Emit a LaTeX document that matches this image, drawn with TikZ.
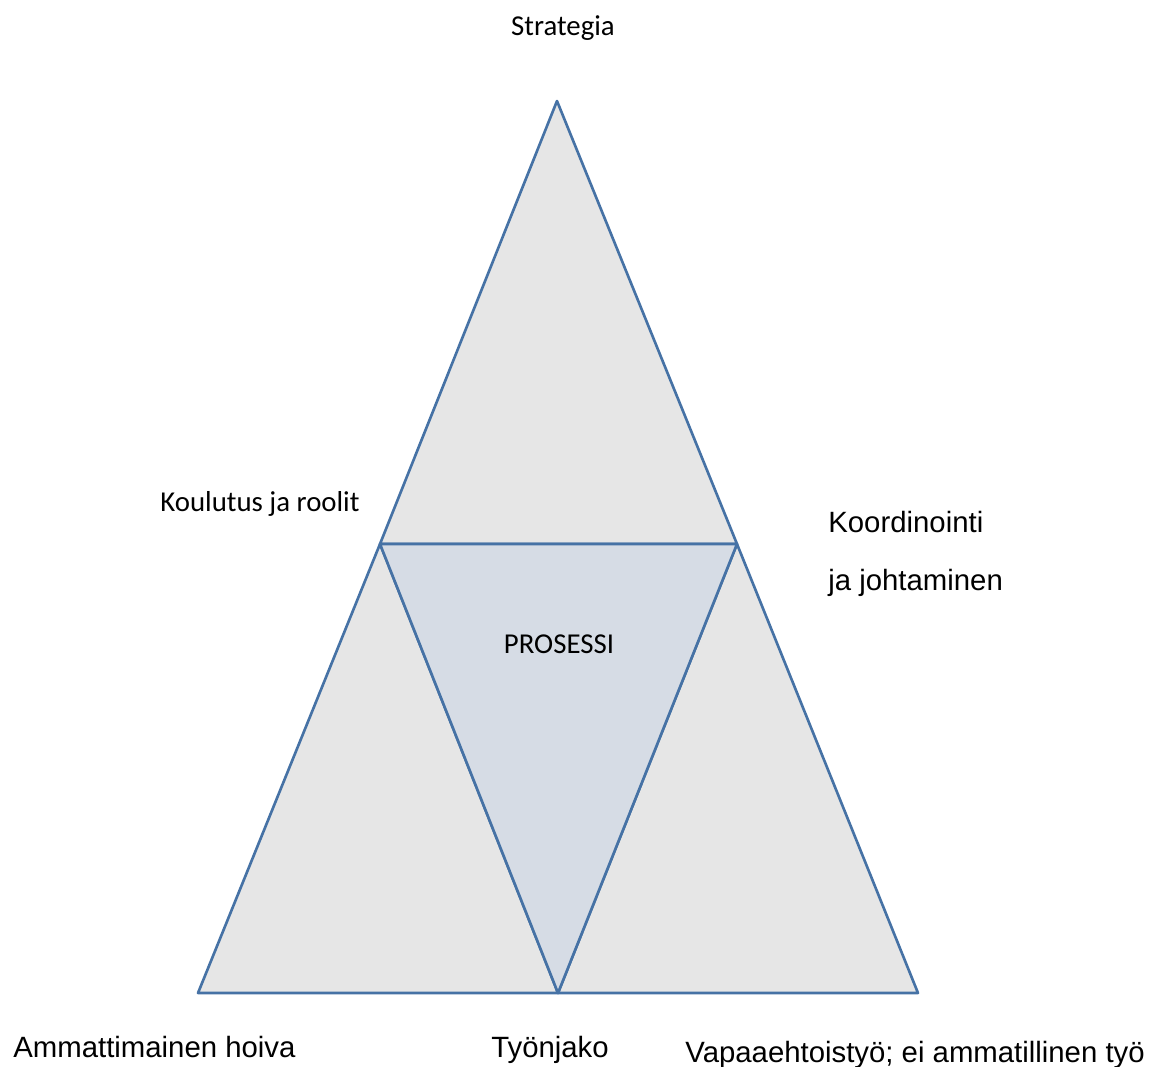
\documentclass[tikz,border=0pt]{standalone}
\usepackage{fontspec}
\setmainfont{Liberation Sans}
\newfontfamily\calibri{Carlito}
\definecolor{edgeblue}{HTML}{4672A5}
\definecolor{sidegray}{HTML}{E6E6E6}
\definecolor{coreblue}{HTML}{D6DCE5}
\tikzset{
    piece/.style={draw=edgeblue, line width=1.5pt, fill=sidegray, line join=round}, % the three outer triangles
    core/.style={piece, fill=coreblue}, % the turned triangle in the middle
    caltext/.style={font=\calibri\fontsize{16.4}{19}\selectfont, inner sep=0pt, anchor=base}, % Carlito labels
    aritext/.style={font=\fontsize{16.7}{20}\selectfont, inner sep=0pt, anchor=base west}, % Arial-like labels
}

\begin{document}
\begin{tikzpicture}[x=0.02cm, y=-0.02cm
                  ]
                  \useasboundingbox (0,0) rectangle (1150,1066);
                  \coordinate (apex) at (557,101);
                  \coordinate (ml) at (380,544);
                  \coordinate (mr) at (737,544);
                  \coordinate (bl) at (198,993);
                  \coordinate (bm) at (558,993);
                  \coordinate (br) at (918,993);
                  \draw[piece] (apex) -- (mr) -- (ml) -- cycle;
                  \draw[piece] (ml) -- (bm) -- (bl) -- cycle;
                  \draw[piece] (mr) -- (br) -- (bm) -- cycle;
                  \draw[core] (ml) -- (mr) -- (bm) -- cycle;
                  \node[caltext] (strat) at (563,35) {Strategia};
                  \node[caltext] (koul) at (260,511) {Koulutus ja roolit};
                  \node[caltext] (pros) at (559,653) {PROSESSI};
                  \node[aritext] (koord) at (828,532) {Koordinointi};
                  \node[aritext] (johto) at (828,590) {ja johtaminen};
                  \node[aritext] (hoiva) at (13,1057) {Ammattimainen hoiva};
                  \node[aritext, anchor=base] (jako) at (550,1057) {Työnjako};
                  \node[aritext] (vapaa) at (685,1062) {Vapaaehtoistyö; ei ammatillinen työ};
              \end{tikzpicture}
\end{document}
